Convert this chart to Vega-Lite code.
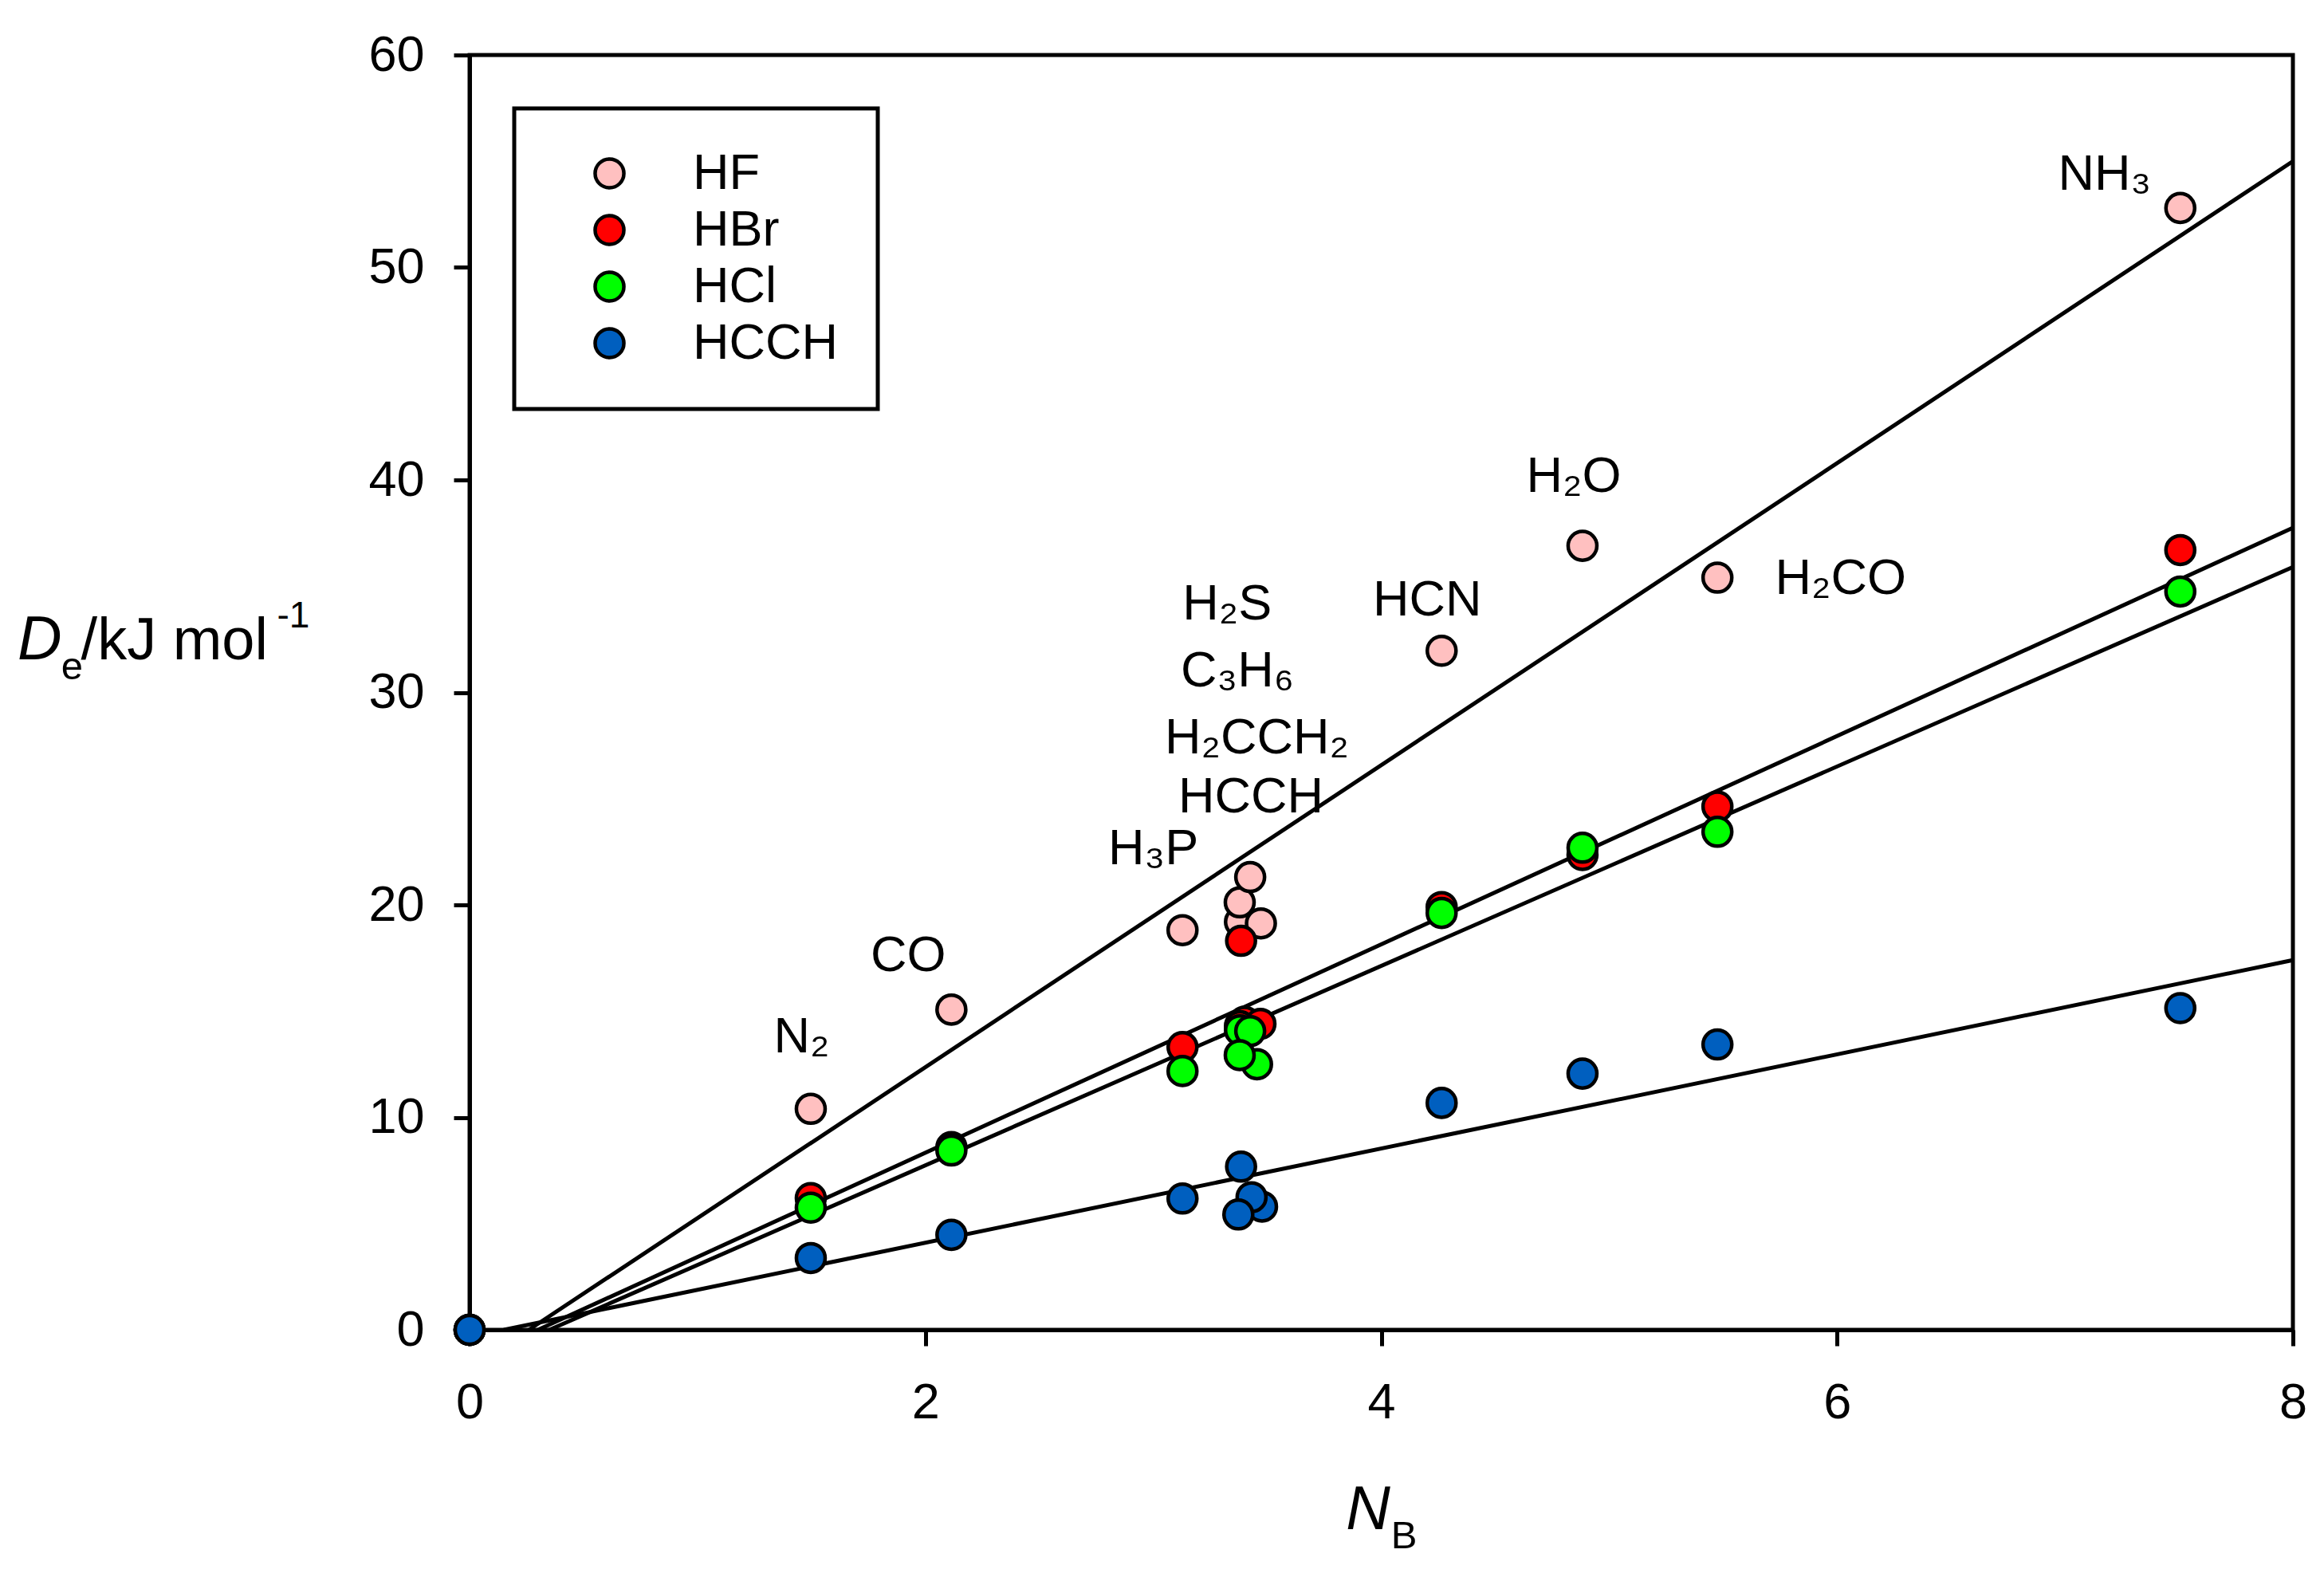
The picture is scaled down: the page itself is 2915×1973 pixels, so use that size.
{
  "$schema": "https://vega.github.io/schema/vega-lite/v6.json",
  "width": 2287,
  "height": 1599,
  "autosize": {"type": "none"},
  "padding": {"left": 589, "top": 69, "right": 39, "bottom": 305},
  "background": "white",
  "config": {
    "font": "Liberation Sans",
    "view": {"stroke": "black", "strokeWidth": 5},
    "axis": {
      "domainColor": "black", "domainWidth": 5,
      "tickColor": "black", "tickWidth": 5, "tickSize": 20,
      "labelFont": "Liberation Sans", "labelFontSize": 63, "labelColor": "black",
      "labelFlush": false, "format": "d",
      "grid": false, "title": null
    },
    "legend": {
      "strokeColor": "black", "strokeWidth": 5, "padding": 50, "cornerRadius": 0,
      "labelFont": "Liberation Sans", "labelFontSize": 63, "labelColor": "black", "labelLimit": 500,
      "symbolType": "circle", "symbolSize": 1300, "symbolStrokeColor": "black", "symbolStrokeWidth": 4.5,
      "symbolOpacity": 1, "symbolOffset": 38, "labelOffset": 73, "rowPadding": 7
    }
  },
  "datasets": {
    "fits": [
      {"series": "HF", "nb": 0.26, "de": 0},
      {"series": "HF", "nb": 8, "de": 55.0},
      {"series": "HBr", "nb": 0.30, "de": 0},
      {"series": "HBr", "nb": 8, "de": 37.75},
      {"series": "HCl", "nb": 0.35, "de": 0},
      {"series": "HCl", "nb": 8, "de": 35.9},
      {"series": "HCCH", "nb": 0.15, "de": 0},
      {"series": "HCCH", "nb": 8, "de": 17.4}
    ],
    "points": [
      {"series": "HF", "nb": 0, "de": 0},
      {"series": "HF", "nb": 1.497, "de": 10.4},
      {"series": "HF", "nb": 2.114, "de": 15.07},
      {"series": "HF", "nb": 3.128, "de": 18.81},
      {"series": "HF", "nb": 3.38, "de": 19.2},
      {"series": "HF", "nb": 3.472, "de": 19.13},
      {"series": "HF", "nb": 3.379, "de": 20.12},
      {"series": "HF", "nb": 3.425, "de": 21.31},
      {"series": "HF", "nb": 4.265, "de": 31.96},
      {"series": "HF", "nb": 4.883, "de": 36.9},
      {"series": "HF", "nb": 5.475, "de": 35.4},
      {"series": "HF", "nb": 7.506, "de": 52.8},
      {"series": "HBr", "nb": 0, "de": 0},
      {"series": "HBr", "nb": 1.497, "de": 6.2},
      {"series": "HBr", "nb": 2.114, "de": 8.6},
      {"series": "HBr", "nb": 3.128, "de": 13.31},
      {"series": "HBr", "nb": 3.385, "de": 18.31},
      {"series": "HBr", "nb": 3.40, "de": 14.5},
      {"series": "HBr", "nb": 3.38, "de": 14.3},
      {"series": "HBr", "nb": 3.47, "de": 14.4},
      {"series": "HBr", "nb": 4.265, "de": 19.9},
      {"series": "HBr", "nb": 4.883, "de": 22.35},
      {"series": "HBr", "nb": 5.475, "de": 24.63},
      {"series": "HBr", "nb": 7.506, "de": 36.7},
      {"series": "HCl", "nb": 0, "de": 0},
      {"series": "HCl", "nb": 1.497, "de": 5.75},
      {"series": "HCl", "nb": 2.114, "de": 8.44},
      {"series": "HCl", "nb": 3.128, "de": 12.18},
      {"series": "HCl", "nb": 3.38, "de": 14.1},
      {"series": "HCl", "nb": 3.425, "de": 14.06},
      {"series": "HCl", "nb": 3.455, "de": 12.5},
      {"series": "HCl", "nb": 3.379, "de": 12.93},
      {"series": "HCl", "nb": 4.265, "de": 19.62},
      {"series": "HCl", "nb": 4.883, "de": 22.69},
      {"series": "HCl", "nb": 5.475, "de": 23.44},
      {"series": "HCl", "nb": 7.506, "de": 34.75},
      {"series": "HCCH", "nb": 1.497, "de": 3.38},
      {"series": "HCCH", "nb": 2.114, "de": 4.47},
      {"series": "HCCH", "nb": 3.128, "de": 6.18},
      {"series": "HCCH", "nb": 3.385, "de": 7.68},
      {"series": "HCCH", "nb": 3.477, "de": 5.8},
      {"series": "HCCH", "nb": 3.431, "de": 6.24},
      {"series": "HCCH", "nb": 3.373, "de": 5.43},
      {"series": "HCCH", "nb": 4.265, "de": 10.68},
      {"series": "HCCH", "nb": 4.883, "de": 12.06},
      {"series": "HCCH", "nb": 5.475, "de": 13.43},
      {"series": "HCCH", "nb": 7.506, "de": 15.14},
      {"series": "HCCH", "nb": 0, "de": 0}
    ],
    "labels": [
      {"molecule": "N₂", "nb": 1.457, "de": 13.05},
      {"molecule": "CO", "nb": 1.925, "de": 16.88},
      {"molecule": "H₃P", "nb": 3.0, "de": 21.91},
      {"molecule": "HCCH", "nb": 3.428, "de": 24.35},
      {"molecule": "H₂CCH₂", "nb": 3.454, "de": 27.14},
      {"molecule": "C₃H₆", "nb": 3.369, "de": 30.28},
      {"molecule": "H₂S", "nb": 3.324, "de": 33.42},
      {"molecule": "HCN", "nb": 4.202, "de": 33.63},
      {"molecule": "H₂O", "nb": 4.845, "de": 39.43},
      {"molecule": "H₂CO", "nb": 6.016, "de": 34.65},
      {"molecule": "NH₃", "nb": 7.174, "de": 53.65}
    ]
  },
  "layer": [
    {
      "data": {"name": "fits"},
      "mark": {"type": "line", "color": "black", "strokeWidth": 5},
      "encoding": {
        "x": {"field": "nb", "type": "quantitative", "scale": {"domain": [0, 8], "nice": false},
              "axis": {"values": [0, 2, 4, 6, 8], "labelPadding": 40}},
        "y": {"field": "de", "type": "quantitative", "scale": {"domain": [0, 60], "nice": false},
              "axis": {"values": [0, 10, 20, 30, 40, 50, 60], "labelPadding": 37}},
        "detail": {"field": "series"}
      }
    },
    {
      "data": {"name": "points"},
      "mark": {"type": "point", "shape": "circle", "filled": true, "size": 1300,
               "stroke": "black", "strokeWidth": 4.5, "opacity": 1},
      "encoding": {
        "x": {"field": "nb", "type": "quantitative"},
        "y": {"field": "de", "type": "quantitative"},
        "color": {
          "field": "series", "type": "nominal",
          "scale": {"domain": ["HF", "HBr", "HCl", "HCCH"],
                    "range": ["#FFC0C0", "#FF0000", "#00FF00", "#005FBF"]},
          "legend": {"orient": "none", "legendX": 56, "legendY": 67, "title": null}
        }
      }
    },
    {
      "data": {"name": "labels"},
      "mark": {"type": "text", "fontSize": 63, "align": "center", "baseline": "alphabetic", "color": "black"},
      "encoding": {
        "x": {"field": "nb", "type": "quantitative"},
        "y": {"field": "de", "type": "quantitative"},
        "text": {"field": "molecule"}
      }
    },
    {
      "data": {"values": [{}]},
      "mark": {"type": "text", "text": "D", "fontSize": 77, "fontStyle": "italic", "align": "left", "baseline": "alphabetic", "color": "black"},
      "encoding": {"x": {"datum": -1.983, "type": "quantitative"}, "y": {"datum": 31.56, "type": "quantitative"}}
    },
    {
      "data": {"values": [{}]},
      "mark": {"type": "text", "text": "e", "fontSize": 49, "align": "left", "baseline": "alphabetic", "color": "black"},
      "encoding": {"x": {"datum": -1.792, "type": "quantitative"}, "y": {"datum": 30.62, "type": "quantitative"}}
    },
    {
      "data": {"values": [{}]},
      "mark": {"type": "text", "text": "/kJ mol", "fontSize": 74, "align": "left", "baseline": "alphabetic", "color": "black"},
      "encoding": {"x": {"datum": -1.705, "type": "quantitative"}, "y": {"datum": 31.56, "type": "quantitative"}}
    },
    {
      "data": {"values": [{}]},
      "mark": {"type": "text", "text": "-1", "fontSize": 46, "align": "left", "baseline": "alphabetic", "color": "black"},
      "encoding": {"x": {"datum": -0.845, "type": "quantitative"}, "y": {"datum": 33.06, "type": "quantitative"}}
    },
    {
      "data": {"values": [{}]},
      "mark": {"type": "text", "text": "N", "fontSize": 77, "fontStyle": "italic", "align": "left", "baseline": "alphabetic", "color": "black"},
      "encoding": {"x": {"datum": 3.845, "type": "quantitative"}, "y": {"datum": -9.38, "type": "quantitative"}}
    },
    {
      "data": {"values": [{}]},
      "mark": {"type": "text", "text": "B", "fontSize": 49, "align": "left", "baseline": "alphabetic", "color": "black"},
      "encoding": {"x": {"datum": 4.043, "type": "quantitative"}, "y": {"datum": -10.28, "type": "quantitative"}}
    }
  ]
}
